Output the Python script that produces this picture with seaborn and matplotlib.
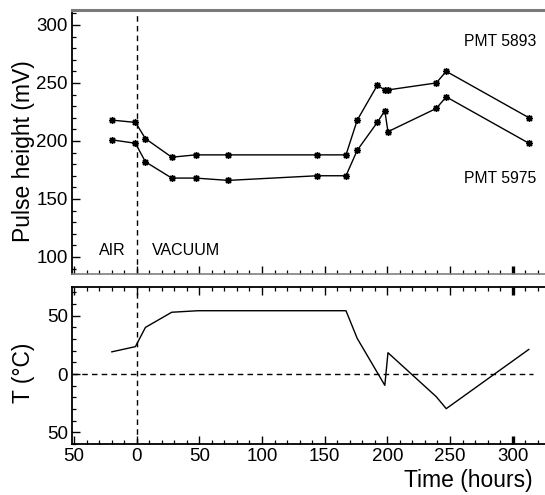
import matplotlib
matplotlib.use("Agg")
import matplotlib.pyplot as plt
import seaborn as sns
import pandas as pd
from matplotlib.ticker import MultipleLocator, FuncFormatter

sns.set_theme(style="ticks")
plt.rcParams['font.family'] = ['Liberation Sans', 'DejaVu Sans']
plt.rcParams['text.color'] = 'black'
plt.rcParams['axes.labelcolor'] = 'black'
plt.rcParams['xtick.color'] = 'black'
plt.rcParams['ytick.color'] = 'black'

# ---- data ----
time_h = [-20, -1, 7, 28, 47, 73, 144, 167, 176, 192, 198, 200.5, 239, 247, 313]
pmt_5893 = [218, 216, 202, 186, 188, 188, 188, 188, 218, 248, 244, 244, 250, 260, 220]
pmt_5975 = [201, 198, 182, 168, 168, 166, 170, 170, 192, 216, 226, 208, 228, 238, 198]

temp_time = [-20, -1, 7, 28, 49, 167, 176, 198, 200.5, 239, 247, 313]
temp_c = [19, 23.5, 40, 53, 54.3, 54.3, 30.5, -9.7, 18.3, -19.4, -29.7, 21.2]

df_ph = pd.DataFrame({"time": time_h, "PMT 5893": pmt_5893, "PMT 5975": pmt_5975})
df_t = pd.DataFrame({"time": temp_time, "T": temp_c})

W, H = 545, 495
fig = plt.figure(figsize=(W / 100, H / 100), dpi=100)
left = 72 / W
width = 1 - left
ax1 = fig.add_axes([left, 1 - 274 / H, width, 264 / H])
ax2 = fig.add_axes([left, 1 - 444 / H, width, (444 - 286.7) / H])

xlim = (-51.6, 325.8)
star = (8, 2, 0)
for col in ["PMT 5893", "PMT 5975"]:
    sns.lineplot(data=df_ph, x="time", y=col, ax=ax1, color="black", lw=1,
                 marker=star, markersize=5, mec="black", mew=1.0,
                 estimator=None, sort=False)
sns.lineplot(data=df_t, x="time", y="T", ax=ax2, color="black", lw=1,
             estimator=None, sort=False)

dash = (0, (4, 3))
ax1.axvline(0, color="black", ls=dash, lw=1)
ax2.axvline(0, color="black", ls=dash, lw=1)
ax2.axhline(0, xmin=0, xmax=(533 - 72) / 473, color="black", ls=dash, lw=1)

ax1.set_xlim(*xlim)
ax2.set_xlim(*xlim)
ax1.set_ylim(85.3, 312.9)
ax2.set_ylim(-60.0, 74.9)

absfmt = FuncFormatter(lambda v, p: f"{abs(v):g}")

for ax in (ax1, ax2):
    ax.xaxis.set_major_locator(MultipleLocator(50))
    ax.xaxis.set_minor_locator(MultipleLocator(10))
    ax.yaxis.set_minor_locator(MultipleLocator(10))
    ax.spines["right"].set_visible(False)
    ax.tick_params(which="major", direction="in", length=5.8, width=1, color="black",
                   labelsize=13.5, pad=3, labelcolor="black")
    ax.tick_params(which="minor", direction="in", length=2.9, width=0.9, color="black")
    ax.set_xlabel("")

ax1.yaxis.set_major_locator(MultipleLocator(50))
ax2.yaxis.set_major_locator(MultipleLocator(50))
ax2.yaxis.set_major_formatter(absfmt)
ax2.xaxis.set_major_formatter(absfmt)

ax1.tick_params(axis="x", which="both", bottom=True, top=False, labelbottom=False)
ax2.tick_params(axis="x", which="both", bottom=True, top=True, labelbottom=True)
ax1.tick_params(axis="y", which="both", left=True, right=False)
ax2.tick_params(axis="y", which="both", left=True, right=False)

ax1.spines["top"].set_color("#7a7a7a")
ax1.spines["top"].set_linewidth(2.2)
ax1.spines["bottom"].set_color("#808080")
ax1.spines["bottom"].set_linewidth(1.2)
ax1.spines["left"].set_color("black")
ax1.spines["left"].set_linewidth(1.3)
for s in ("top", "bottom", "left"):
    ax2.spines[s].set_color("black")
    ax2.spines[s].set_linewidth(1.3)

# thicker tick at 300 h (as in the reference)
fig.canvas.draw()
for ax in (ax1, ax2):
    for t in ax.xaxis.get_major_ticks():
        if abs(t.get_loc() - 300) < 1e-6:
            t.tick1line.set_markeredgewidth(2.4)
            t.tick2line.set_markeredgewidth(2.4)

ax1.set_ylabel("Pulse height (mV)", fontsize=16.5, color="black")
ax1.yaxis.set_label_coords(-0.078, 0.466)
ax2.set_ylabel("T (°C)", fontsize=16.5, color="black")
ax2.yaxis.set_label_coords(-0.078, 0.455)
ax2.text(1 - (W - 533) / 473, -0.232, "Time (hours)", transform=ax2.transAxes,
         ha="right", va="center", fontsize=16.5, color="black")

ax1.text(318.6, 285.6, "PMT 5893", ha="right", va="center", fontsize=11.3, color="black")
ax1.text(318.6, 167.7, "PMT 5975", ha="right", va="center", fontsize=11.3, color="black")
ax1.text(-19.7, 105.5, "AIR", ha="center", va="center", fontsize=11.5, color="black")
ax1.text(12.5, 105.5, "VACUUM", ha="left", va="center", fontsize=11.5, color="black")

fig.savefig("out.png", dpi=100)
